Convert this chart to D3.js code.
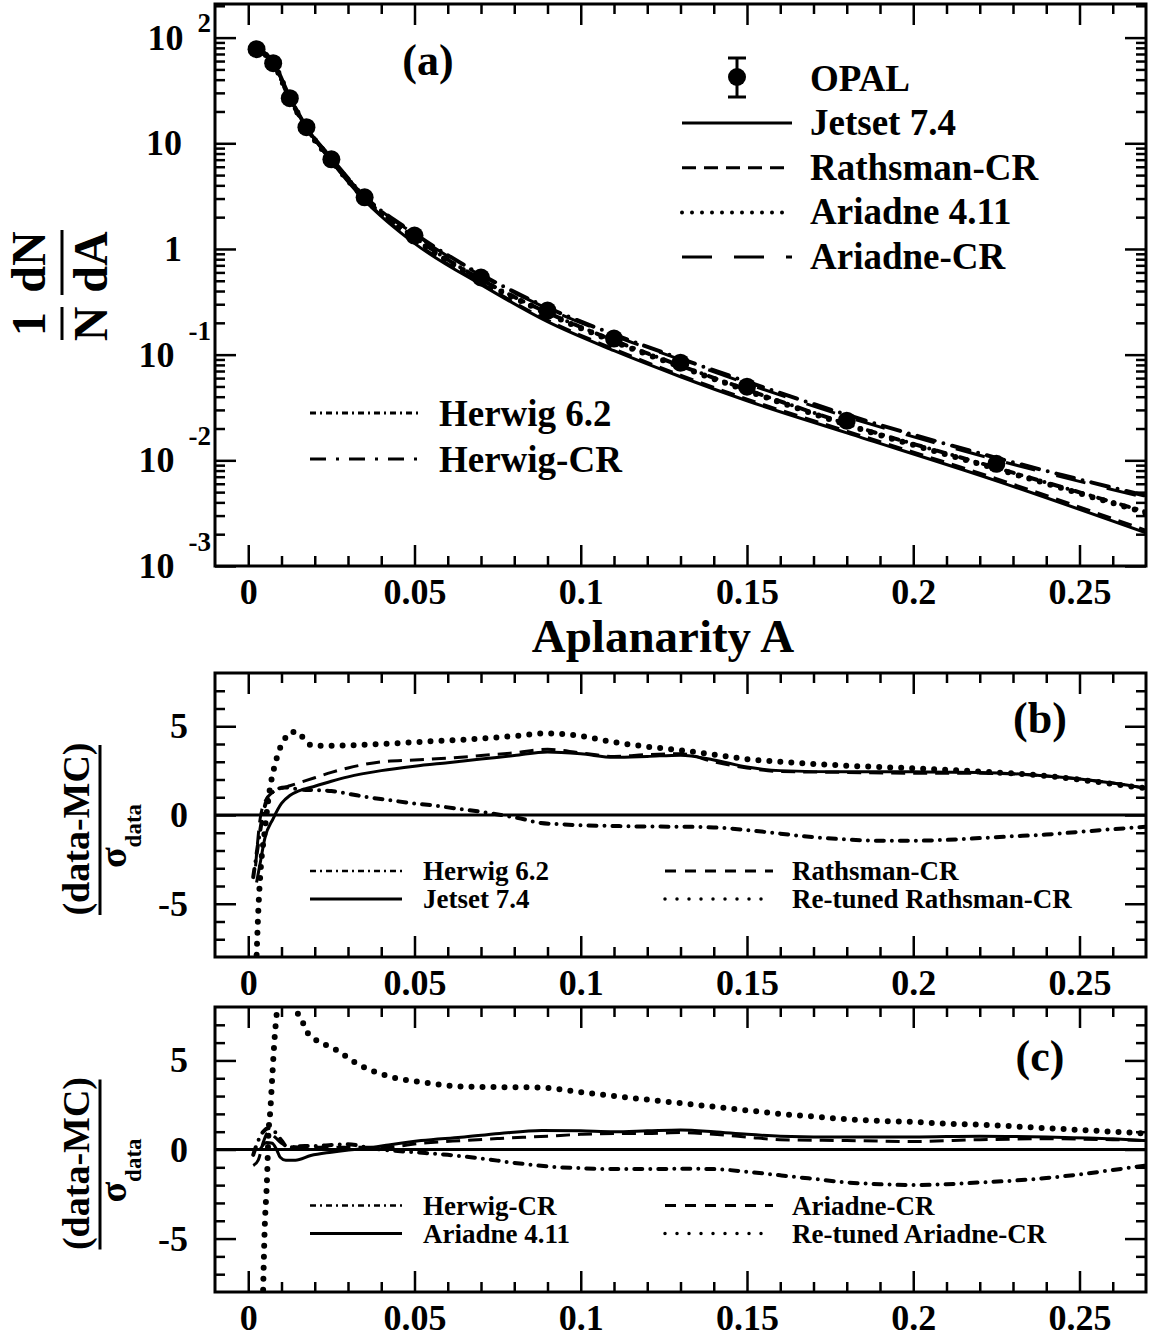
<!DOCTYPE html>
<html>
<head>
<meta charset="utf-8">
<script src="https://cdn.jsdelivr.net/npm/d3@7"></script>
<style>
body { margin: 0; background: #fff; }
svg { display: block; font-family: "Liberation Serif", "Times New Roman", serif; font-weight: bold; }
</style>
</head>
<body>
<svg id="chart" width="1152" height="1338"></svg>
<script>
// ---- panel (a): OPAL data and MC predictions of 1/N dN/dA ----
const opalX = [0.0025, 0.0075, 0.0125, 0.0175, 0.025, 0.035, 0.05, 0.07, 0.09, 0.11, 0.13, 0.15, 0.18, 0.225];
const opalY = [77.8, 57.3, 26.7, 14.2, 7.05, 3.08, 1.34, 0.537, 0.261, 0.142, 0.084, 0.0497, 0.0237, 0.00927];

const mcX = [0.0025, 0.0075, 0.0125, 0.0175, 0.025, 0.035, 0.05, 0.07, 0.09, 0.11, 0.13, 0.15, 0.18, 0.225, 0.27];
const jetset = [77.8, 57.3, 26.7, 14.2, 6.75, 2.88, 1.13, 0.460, 0.205, 0.109, 0.0618, 0.0366, 0.0182, 0.00640, 0.00206];
const rathsman = [77.0, 56.5, 26.5, 14.3, 6.85, 2.95, 1.17, 0.475, 0.212, 0.113, 0.064, 0.038, 0.0189, 0.0067, 0.00218];
const ariadne = [77.8, 57.3, 26.7, 13.9, 6.90, 3.01, 1.26, 0.503, 0.245, 0.133, 0.0770, 0.0456, 0.0217, 0.00831, 0.00318];
const ariadneCR = [77.8, 57.3, 26.7, 14.2, 7.21, 3.15, 1.37, 0.561, 0.273, 0.151, 0.0897, 0.0531, 0.0258, 0.0101, 0.00441];
const herwig = [77.8, 56.1, 26.1, 13.9, 6.90, 3.01, 1.29, 0.514, 0.250, 0.136, 0.0787, 0.0466, 0.0222, 0.00849, 0.00325];
const herwigCR = [79.5, 58.6, 27.3, 14.2, 7.21, 3.15, 1.40, 0.573, 0.279, 0.155, 0.0917, 0.0555, 0.0270, 0.01056, 0.00461];

// ---- panel (b): (data-MC)/sigma ----
const bJetsetX = [0.0025, 0.0035, 0.005, 0.0075, 0.01, 0.0125, 0.015, 0.0175, 0.02, 0.025, 0.03, 0.04, 0.05, 0.06, 0.07, 0.08, 0.09, 0.1, 0.11, 0.12, 0.13, 0.14, 0.15, 0.16, 0.18, 0.2, 0.22, 0.24, 0.26, 0.27];
const bJetset = [-3.8, -2.8, -1.3, -0.2, 0.65, 1.1, 1.35, 1.5, 1.62, 1.9, 2.15, 2.5, 2.75, 2.95, 3.15, 3.35, 3.55, 3.45, 3.25, 3.3, 3.37, 3.1, 2.7, 2.5, 2.43, 2.43, 2.4, 2.2, 1.8, 1.5];
const bRathsmanX = [0.0022, 0.0035, 0.005, 0.0075, 0.01, 0.0125, 0.015, 0.0175, 0.02, 0.025, 0.03, 0.04, 0.05, 0.06, 0.07, 0.08, 0.09, 0.1, 0.11, 0.12, 0.13, 0.14, 0.15, 0.16, 0.18, 0.2, 0.22, 0.24, 0.26, 0.27];
const bRathsman = [-2.9, -0.3, 0.75, 1.3, 1.5, 1.65, 1.8, 1.95, 2.1, 2.4, 2.65, 3.0, 3.1, 3.2, 3.35, 3.5, 3.7, 3.5, 3.3, 3.4, 3.45, 3.0, 2.65, 2.45, 2.4, 2.35, 2.35, 2.2, 1.8, 1.5];
const bRetunedX = [0.0024, 0.003, 0.0038, 0.0049, 0.0059, 0.0068, 0.0075, 0.0084, 0.0093, 0.0107, 0.013, 0.0148, 0.0171, 0.0194, 0.025, 0.03, 0.04, 0.05, 0.06, 0.07, 0.08, 0.09, 0.1, 0.11, 0.12, 0.13, 0.14, 0.15, 0.16, 0.18, 0.2, 0.22, 0.24, 0.26, 0.27];
const bRetuned = [-8.5, -5.5, -2.9, -1.0, 0.67, 1.8, 2.43, 3.1, 3.65, 4.2, 4.68, 4.68, 4.2, 3.9, 3.9, 3.92, 4.0, 4.1, 4.2, 4.3, 4.45, 4.6, 4.45, 4.1, 3.85, 3.65, 3.4, 3.15, 3.0, 2.78, 2.63, 2.45, 2.2, 1.75, 1.5];
const bHerwigX = [0.0015, 0.0025, 0.0035, 0.0045, 0.0055, 0.0065, 0.008, 0.011, 0.015, 0.02, 0.025, 0.03, 0.036, 0.042, 0.049, 0.055, 0.062, 0.07, 0.076, 0.082, 0.088, 0.094, 0.1, 0.11, 0.12, 0.13, 0.14, 0.15, 0.16, 0.17, 0.18, 0.19, 0.2, 0.21, 0.22, 0.23, 0.24, 0.25, 0.26, 0.27];
const bHerwig = [-3.5, -2.2, -1.0, 0.1, 0.8, 1.1, 1.4, 1.55, 1.45, 1.4, 1.35, 1.2, 1.0, 0.85, 0.67, 0.55, 0.38, 0.18, 0.0, -0.2, -0.45, -0.52, -0.58, -0.62, -0.65, -0.66, -0.7, -0.85, -1.05, -1.25, -1.38, -1.45, -1.45, -1.4, -1.3, -1.2, -1.1, -0.95, -0.8, -0.66];

// ---- panel (c): (data-MC)/sigma ----
const cHerwigCRX = [0.0015, 0.003, 0.0045, 0.006, 0.008, 0.01, 0.012, 0.014, 0.017, 0.02, 0.025, 0.03, 0.035, 0.04, 0.05, 0.06, 0.07, 0.08, 0.09, 0.1, 0.11, 0.12, 0.13, 0.14, 0.15, 0.16, 0.17, 0.18, 0.19, 0.2, 0.21, 0.22, 0.23, 0.24, 0.25, 0.26, 0.27];
const cHerwigCR = [-0.3, 0.5, 1.0, 1.2, 1.0, 0.5, 0.1, 0.15, 0.2, 0.2, 0.25, 0.3, 0.15, 0.0, -0.15, -0.3, -0.5, -0.75, -0.95, -1.05, -1.1, -1.1, -1.08, -1.1, -1.25, -1.45, -1.65, -1.85, -1.95, -2.0, -1.95, -1.85, -1.75, -1.6, -1.4, -1.15, -0.9];
const cAriadneX = [0.0035, 0.0055, 0.0072, 0.0085, 0.0096, 0.0113, 0.0142, 0.0188, 0.025, 0.029, 0.035, 0.041, 0.052, 0.064, 0.0756, 0.0882, 0.1, 0.11, 0.12, 0.13, 0.14, 0.15, 0.16, 0.18, 0.2, 0.22, 0.24, 0.26, 0.27];
const cAriadne = [0.0, 0.4, 0.35, 0.0, -0.43, -0.6, -0.6, -0.34, -0.15, -0.05, 0.05, 0.22, 0.5, 0.69, 0.9, 1.07, 1.05, 1.0, 1.05, 1.1, 1.0, 0.85, 0.75, 0.7, 0.7, 0.75, 0.7, 0.6, 0.5];
const cAriadneCRX = [0.0015, 0.003, 0.0045, 0.006, 0.008, 0.01, 0.012, 0.0165, 0.029, 0.041, 0.052, 0.064, 0.0756, 0.09, 0.1, 0.11, 0.12, 0.13, 0.14, 0.15, 0.16, 0.18, 0.2, 0.22, 0.24, 0.26, 0.27];
const cAriadneCR = [-0.9, -0.6, 0.4, 0.95, 0.7, 0.35, 0.2, 0.13, 0.13, 0.13, 0.35, 0.5, 0.62, 0.75, 0.85, 0.9, 0.9, 0.95, 0.85, 0.7, 0.55, 0.5, 0.45, 0.55, 0.6, 0.55, 0.5];
const cRetunedX = [0.0044, 0.0049, 0.0057, 0.006, 0.0067, 0.0072, 0.0078, 0.0086, 0.0095, 0.011, 0.0135, 0.0148, 0.0165, 0.0177, 0.02, 0.0258, 0.0339, 0.0432, 0.0524, 0.064, 0.075, 0.087, 0.101, 0.11, 0.12, 0.13, 0.14, 0.15, 0.16, 0.17, 0.18, 0.19, 0.2, 0.21, 0.22, 0.23, 0.24, 0.25, 0.26, 0.27];
const cRetuned = [-8.5, -4.7, -1.36, 0.5, 2.36, 4.0, 5.9, 7.7, 9.0, 9.6, 8.8, 7.7, 7.1, 6.6, 6.2, 5.66, 4.7, 4.06, 3.78, 3.54, 3.5, 3.48, 3.2, 3.0, 2.8, 2.6, 2.4, 2.2, 2.0, 1.85, 1.7, 1.6, 1.55, 1.45, 1.4, 1.3, 1.2, 1.1, 1.0, 0.9];

// ---- ticks and legends ----
const xMajor = [0, 0.05, 0.1, 0.15, 0.2, 0.25];
const xMinor = [0.01, 0.02, 0.03, 0.04, 0.06, 0.07, 0.08, 0.09, 0.11, 0.12, 0.13, 0.14, 0.16, 0.17, 0.18, 0.19, 0.21, 0.22, 0.23, 0.24, 0.26];
const logDecades = [-3, -2, -1, 0, 1, 2];
const pullMajor = [-5, 0, 5];
const pullMinor = [-7, -6, -4, -3, -2, -1, 1, 2, 3, 4, 6, 7];

const legendATop = ["Jetset 7.4", "Rathsman-CR", "Ariadne 4.11", "Ariadne-CR"];
const legendABottom = ["Herwig 6.2", "Herwig-CR"];
const legendB = ["Herwig 6.2", "Jetset 7.4", "Rathsman-CR", "Re-tuned Rathsman-CR"];
const legendC = ["Herwig-CR", "Ariadne 4.11", "Ariadne-CR", "Re-tuned Ariadne-CR"];

const styles = {
    solid: {w: 3, dash: null, cap: "butt"},
    dashed: {w: 3, dash: "14 8", cap: "butt"},
    dotted: {w: 6, dash: "0 11", cap: "round"},
    longdash: {w: 3, dash: "30 22", cap: "butt"},
    dashdot: {w: 4, dash: "8 8 0 8", cap: "round"},
    longdashdot: {w: 4, dash: "18 9 0 9", cap: "round"}
};

const svg = d3.select("#chart");
const x = d3.scaleLinear().domain([-0.01, 0.27]).range([215, 1146]);
const yA = d3.scaleLog().domain([1e-3, Math.pow(10, 2.318)]).range([566, 4]);
const yB = d3.scaleLinear().domain([-8, 8]).range([957, 673]);
const yC = d3.scaleLinear().domain([-8, 8]).range([1292, 1007]);

function applyStyle(sel, st, legend) {
    sel.attr("fill", "none").attr("stroke", "#000")
        .attr("stroke-width", legend && st === styles.dotted ? 4 : st.w)
        .attr("stroke-linecap", st.cap);
    if (st.dash) sel.attr("stroke-dasharray", legend && st === styles.dotted ? "0 10" : st.dash);
    return sel;
}

function clip(id, y) {
    svg.append("clipPath").attr("id", id).append("rect")
        .attr("x", x.range()[0]).attr("y", y.range()[1])
        .attr("width", x.range()[1] - x.range()[0])
        .attr("height", y.range()[0] - y.range()[1]);
}

function curve(y, xs, ys, st, clipId) {
    const line = d3.line().x(d => x(d[0])).y(d => y(d[1])).curve(d3.curveMonotoneX);
    applyStyle(svg.append("path").datum(xs.map((v, i) => [v, ys[i]]))
        .attr("clip-path", `url(#${clipId})`).attr("d", line), st);
}

function frame(y, logTicks) {
    const g = svg.append("g");
    const top = y.range()[1], bottom = y.range()[0];
    const styleAxis = a => {
        a.attr("font-family", null).attr("font-size", null);
        a.select(".domain").remove();
        a.selectAll("line").attr("stroke-width", 2.5);
    };
    g.append("g").attr("transform", `translate(0,${bottom})`)
        .call(d3.axisBottom(x).tickValues(xMajor).tickSizeInner(-21).tickSizeOuter(0).tickPadding(12).tickFormat(d => String(d)))
        .call(styleAxis)
        .call(a => a.selectAll("text").attr("font-size", 36));
    g.append("g").attr("transform", `translate(0,${bottom})`)
        .call(d3.axisBottom(x).tickValues(xMinor).tickSize(-10).tickFormat("")).call(styleAxis);
    g.append("g").attr("transform", `translate(0,${top})`)
        .call(d3.axisTop(x).tickValues(xMajor).tickSize(-21).tickFormat("")).call(styleAxis);
    g.append("g").attr("transform", `translate(0,${top})`)
        .call(d3.axisTop(x).tickValues(xMinor).tickSize(-10).tickFormat("")).call(styleAxis);
    const left = x.range()[0], right = x.range()[1];
    const major = logTicks ? logTicks.major : pullMajor;
    const minor = logTicks ? logTicks.minor : pullMinor;
    g.append("g").attr("transform", `translate(${left},0)`)
        .call(d3.axisLeft(y).tickValues(major).tickSize(-21).tickPadding(27).tickFormat(logTicks ? "" : d => String(d)))
        .call(styleAxis)
        .call(a => a.selectAll("text").attr("font-size", 36));
    g.append("g").attr("transform", `translate(${left},0)`)
        .call(d3.axisLeft(y).tickValues(minor).tickSize(-10).tickFormat("")).call(styleAxis);
    g.append("g").attr("transform", `translate(${right},0)`)
        .call(d3.axisRight(y).tickValues(major).tickSize(-21).tickFormat("")).call(styleAxis);
    g.append("g").attr("transform", `translate(${right},0)`)
        .call(d3.axisRight(y).tickValues(minor).tickSize(-10).tickFormat("")).call(styleAxis);
    g.append("rect").attr("x", left).attr("y", top).attr("width", right - left).attr("height", bottom - top)
        .attr("fill", "none").attr("stroke", "#000").attr("stroke-width", 3);
}

// ================= panel (a) =================
const aMinor = [];
logDecades.forEach(k => d3.range(2, 10).forEach(m => {
    const v = m * Math.pow(10, k);
    if (v < yA.domain()[1]) aMinor.push(v);
}));
clip("clipA", yA);
const aCurves = [
    [jetset, styles.solid], [rathsman, styles.dashed], [ariadne, styles.dotted],
    [ariadneCR, styles.longdash], [herwig, styles.dashdot], [herwigCR, styles.longdashdot]
];
aCurves.forEach(([ys, st]) => curve(yA, mcX, ys, st, "clipA"));
svg.append("g").selectAll("circle").data(opalX).enter().append("circle")
    .attr("cx", d => x(d)).attr("cy", (d, i) => yA(opalY[i])).attr("r", 9).attr("fill", "#000");
frame(yA, {major: logDecades.map(k => Math.pow(10, k)), minor: aMinor});

// log labels with superscripts
logDecades.forEach(k => {
    const ty = yA(Math.pow(10, k));
    if (k === 0 || k === 1) {
        svg.append("text").attr("x", 182).attr("y", ty + 12).attr("text-anchor", "end")
            .attr("font-size", 36).text(k === 0 ? "1" : "10");
    } else {
        const t = svg.append("text").attr("x", 211).attr("y", ty + 12).attr("text-anchor", "end")
            .attr("font-size", 36).text("10");
        t.append("tspan").attr("dx", 14).attr("dy", k > 0 ? -18 : -27).attr("font-size", 27).text(String(k));
    }
});

svg.append("text").attr("x", 663).attr("y", 652).attr("text-anchor", "middle")
    .attr("font-size", 47).text("Aplanarity A");
svg.append("text").attr("x", 428).attr("y", 75).attr("text-anchor", "middle")
    .attr("font-size", 44).text("(a)");

// y title: (1/N)(dN/dA), rotated
const yt = svg.append("g").attr("transform", "rotate(-90)");
[["1", 324, 45], ["N", 324, 107], ["dN", 262, 45], ["dA", 262, 107]].forEach(([s, cy, bx]) => {
    yt.append("text").attr("x", -cy).attr("y", bx).attr("text-anchor", "middle").attr("font-size", 48).text(s);
});
[[307, 340], [230, 295]].forEach(([a, b]) => {
    yt.append("line").attr("x1", -a).attr("x2", -b).attr("y1", 62).attr("y2", 62)
        .attr("stroke", "#000").attr("stroke-width", 3);
});

// legend (a)
const opalLeg = svg.append("g");
opalLeg.append("line").attr("x1", 737).attr("x2", 737).attr("y1", 58).attr("y2", 97).attr("stroke", "#000").attr("stroke-width", 3);
[58, 97].forEach(yy => opalLeg.append("line").attr("x1", 728).attr("x2", 746).attr("y1", yy).attr("y2", yy).attr("stroke", "#000").attr("stroke-width", 3));
opalLeg.append("circle").attr("cx", 737).attr("cy", 77).attr("r", 9).attr("fill", "#000");
opalLeg.append("text").attr("x", 810).attr("y", 91).attr("font-size", 37).text("OPAL");
const legATopStyles = [styles.solid, styles.dashed, styles.dotted, styles.longdash];
legendATop.forEach((name, i) => {
    const ly = 123 + i * 44.7;
    applyStyle(svg.append("line").attr("x1", 682).attr("x2", 792).attr("y1", ly).attr("y2", ly), legATopStyles[i], true);
    svg.append("text").attr("x", 810).attr("y", ly + 12).attr("font-size", 37).text(name);
});
const legABotStyles = [styles.dashdot, styles.longdashdot];
legendABottom.forEach((name, i) => {
    const ly = 413 + i * 46;
    applyStyle(svg.append("line").attr("x1", 310).attr("x2", 420).attr("y1", ly).attr("y2", ly), legABotStyles[i], true)
        .attr("stroke-width", 3).attr("stroke-dasharray", i === 0 ? "6 4 2 4" : "16 10 3 10").attr("stroke-linecap", "butt");
    svg.append("text").attr("x", 439).attr("y", ly + 13).attr("font-size", 37).text(name);
});

// ================= pull panels =================
function pullPanel(y, id, series, names, tag, tagY) {
    clip(id, y);
    svg.append("line").attr("x1", x.range()[0]).attr("x2", x.range()[1])
        .attr("y1", y(0)).attr("y2", y(0)).attr("stroke", "#000").attr("stroke-width", 3);
    series.forEach(([xs, ys, st]) => curve(y, xs, ys, st, id));
    frame(y, null);
    svg.append("text").attr("x", 1040).attr("y", tagY).attr("text-anchor", "middle")
        .attr("font-size", 44).text(tag);

    // legend: left column uses series 0,1; right column 2,3
    const base = y(0) + 56;
    names.forEach((name, i) => {
        const col = i < 2 ? 0 : 1;
        const ly = base + (i % 2) * 28;
        const x1 = col === 0 ? 310 : 665, x2 = col === 0 ? 402 : 773;
        const st = series[i][2];
        const ln = applyStyle(svg.append("line").attr("x1", x1).attr("x2", x2).attr("y1", ly).attr("y2", ly), st, true);
        if (st === styles.dashdot || st === styles.longdashdot) ln.attr("stroke-width", 2.5).attr("stroke-dasharray", "6 4 2 4").attr("stroke-linecap", "butt");
        if (st === styles.dashed) ln.attr("stroke-dasharray", "11 9");
        if (st === styles.dotted) ln.attr("stroke-width", 3.5).attr("stroke-dasharray", "0 12");
        svg.append("text").attr("x", col === 0 ? 423 : 792).attr("y", ly + 9).attr("font-size", 27).text(name);
    });

    // y title: (data-MC) / sigma_data, rotated
    const cy = (y.range()[0] + y.range()[1]) / 2 + 14;
    const g = svg.append("g").attr("transform", "rotate(-90)");
    g.append("text").attr("x", -cy).attr("y", 89).attr("text-anchor", "middle").attr("font-size", 38).text("(data-MC)");
    g.append("line").attr("x1", -(cy - 84)).attr("x2", -(cy + 86)).attr("y1", 100).attr("y2", 100)
        .attr("stroke", "#000").attr("stroke-width", 3);
    const s = g.append("text").attr("x", -(cy + 7)).attr("y", 126).attr("text-anchor", "middle").attr("font-size", 38).text("σ");
    s.append("tspan").attr("dy", 15).attr("font-size", 23).text("data");
}

pullPanel(yB, "clipB", [
    [bHerwigX, bHerwig, styles.dashdot],
    [bJetsetX, bJetset, styles.solid],
    [bRathsmanX, bRathsman, styles.dashed],
    [bRetunedX, bRetuned, styles.dotted]
], legendB, "(b)", 733);

pullPanel(yC, "clipC", [
    [cHerwigCRX, cHerwigCR, styles.dashdot],
    [cAriadneX, cAriadne, styles.solid],
    [cAriadneCRX, cAriadneCR, styles.dashed],
    [cRetunedX, cRetuned, styles.dotted]
], legendC, "(c)", 1071);
</script>
</body>
</html>
